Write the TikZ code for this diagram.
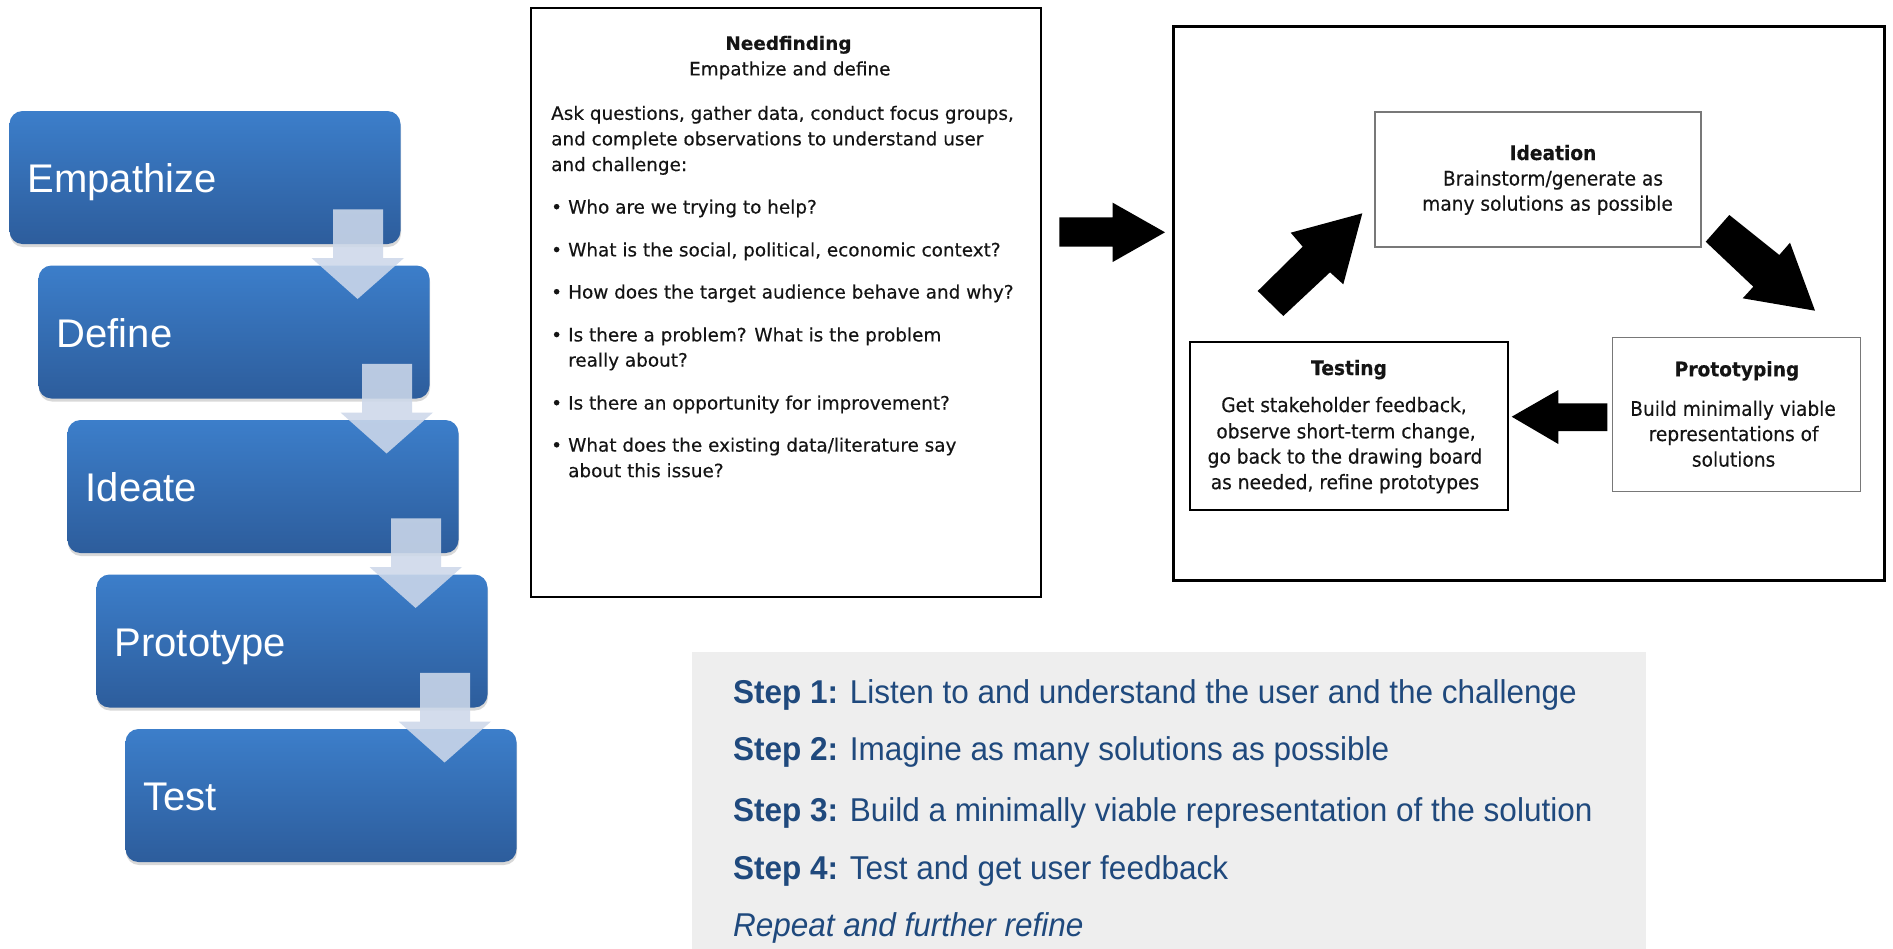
\documentclass[tikz,border=0pt]{standalone}
\usepackage{fontspec}
\setmainfont{Liberation Sans}
\newfontfamily\verd[FakeBold=0.35]{DejaVu Sans}
\newfontfamily\tah[FakeStretch=0.93,FakeBold=0.3]{DejaVu Sans}
\newfontfamily\stepf[FakeStretch=0.955]{Liberation Sans}
\usetikzlibrary{shadows}
\definecolor{boxtop}{RGB}{60,126,202}
\definecolor{boxbot}{RGB}{45,93,156}
\definecolor{chev}{RGB}{205,216,234}
\definecolor{steptxt}{RGB}{31,73,125}
\definecolor{panelgray}{RGB}{238,238,238}
\definecolor{thinline}{RGB}{120,120,120}
\begin{document}
\begin{tikzpicture}[x=1pt,y=-1pt,
  bluebox/.style={rounded corners=13pt, top color=boxtop, bottom color=boxbot, draw=none,
    minimum width=391pt, minimum height=133pt, anchor=north west, inner sep=0pt, outer sep=0pt,
    drop shadow={shadow xshift=0.5pt, shadow yshift=-3pt, opacity=0.3}},
  bluelabel/.style={anchor=base west, text=white, font=\fontsize{40}{48}\selectfont, inner sep=0pt},
  chevron/.style={fill=chev, fill opacity=0.88, draw=none},
  frame/.style={draw=black, anchor=north west, inner sep=0pt, outer sep=0pt},
  nftext/.style={anchor=base west, font=\verd\fontsize{18.4}{22}\selectfont, inner sep=0pt, text=black!92},
  nfhead/.style={anchor=base, font=\verd\fontsize{18.4}{22}\selectfont, inner sep=0pt, text=black!92},
  cyc/.style={anchor=base, font=\tah\fontsize{20}{24}\selectfont, inner sep=0pt, text=black!92},
  blockarrow/.style={fill=black, draw=none},
  steptext/.style={anchor=base west, font=\stepf\fontsize{33}{40}\selectfont, text=steptxt, inner sep=0pt}
]
\useasboundingbox (0,0) rectangle (1893,948);
\fill[white] (0,0) rectangle (1893,948);

% ---------- left staircase ----------
\node[bluebox] (b1) at (9.5,111) {};
\node[bluebox] (b2) at (38.5,265.5) {};
\node[bluebox] (b3) at (67.5,420) {};
\node[bluebox] (b4) at (96.5,574.5) {};
\node[bluebox] (b5) at (125.5,729) {};
\node[bluelabel] (l1) at (27.5,192.5) {Empathize};
\node[bluelabel] (l2) at (56.5,347) {Define};
\node[bluelabel] (l3) at (85.5,501.5) {Ideate};
\node[bluelabel] (l4) at (114.5,656) {Prototype};
\node[bluelabel] (l5) at (143.5,810.5) {Test};
\foreach \i in {1,2,3,4} {
  \fill[chevron] ([shift={(-67.5,98.4)}]b\i.north east) -- ++(50,0) -- ++(0,48.6) -- ++(21,0)
     -- ++(-46.4,41) -- ++(-46.1,-41) -- ++(21.5,0) -- cycle;
}

% ---------- needfinding box ----------
\node[frame, line width=2.5pt, minimum width=510pt, minimum height=589pt] (nfbox) at (531,8) {};
\node[nfhead] (nfh1) at (788.5,49.8) {\bfseries Needfinding};
\node[nfhead] (nfh2) at (789.8,75.4) {Empathize and define};
\node[nftext] (nf1) at (551,119.8) {Ask questions, gather data, conduct focus groups,};
\node[nftext] (nf2) at (551,145.4) {and complete observations to understand user};
\node[nftext] (nf3) at (551,171) {and challenge:};
\node[nftext] (bu1) at (551,213.5) {•};
\node[nftext] (q1) at (568,213.5) {Who are we trying to help?};
\node[nftext] (bu2) at (551,256.4) {•};
\node[nftext] (q2) at (568,256.4) {What is the social, political, economic context?};
\node[nftext] (bu3) at (551,298.5) {•};
\node[nftext] (q3) at (568,298.5) {How does the target audience behave and why?};
\node[nftext] (bu4) at (551,341.4) {•};
\node[nftext] (q4a) at (568,341.4) {Is there a problem? What is the problem};
\node[nftext] (q4b) at (568,366.6) {really about?};
\node[nftext] (bu5) at (551,409.5) {•};
\node[nftext] (q5) at (568,409.5) {Is there an opportunity for improvement?};
\node[nftext] (bu6) at (551,451.6) {•};
\node[nftext] (q6a) at (568,451.6) {What does the existing data/literature say};
\node[nftext] (q6b) at (568,477.2) {about this issue?};

% ---------- big arrow ----------
\fill[blockarrow] (1059.3,217.3) -- (1112.7,217.3) -- (1112.7,202.7) -- (1165,232.3)
   -- (1112.7,262) -- (1112.7,246.7) -- (1059.3,246.7) -- cycle;

% ---------- cycle box ----------
\node[frame, line width=3pt, minimum width=711pt, minimum height=554pt] (cycbox) at (1173,26) {};
\node[frame, draw=thinline, line width=1.2pt, minimum width=326pt, minimum height=135pt] (idea) at (1375,112) {};
\node[frame, line width=1.8pt, minimum width=318pt, minimum height=168pt] (test) at (1190,342) {};
\node[frame, draw=thinline, line width=1.2pt, minimum width=248pt, minimum height=154pt] (proto) at (1612.5,337.5) {};

\node[cyc] (id1) at (1553,160) {\bfseries Ideation};
\node[cyc] (id2) at (1553,185.5) {Brainstorm/generate as};
\node[cyc] (id3) at (1547.5,210.7) {many solutions as possible};

\node[cyc] (te1) at (1349,375) {\bfseries Testing};
\node[cyc] (te2) at (1344,412) {Get stakeholder feedback,};
\node[cyc] (te3) at (1346,438.4) {observe short-term change,};
\node[cyc] (te4) at (1345,463.6) {go back to the drawing board};
\node[cyc] (te5) at (1345,489.2) {as needed, refine prototypes};

\node[cyc] (pr1) at (1737,376.3) {\bfseries Prototyping};
\node[cyc] (pr2) at (1733,415.8) {Build minimally viable};
\node[cyc] (pr3) at (1733.6,441) {representations of};
\node[cyc] (pr4) at (1733.6,466.6) {solutions};

% cycle arrows
\fill[blockarrow] (1257.7,291) -- (1302.7,246.7) -- (1290.7,232.7) -- (1362.3,213.3)
   -- (1343.3,284.3) -- (1330,272.3) -- (1283.3,316) -- cycle;
\fill[blockarrow] (1705.7,241.7) -- (1729.3,215) -- (1779.3,255) -- (1790,242.7)
   -- (1815,310.7) -- (1742.7,298.3) -- (1753.3,286.7) -- cycle;
\fill[blockarrow] (1607.3,403.3) -- (1558.3,403.3) -- (1558.3,390) -- (1511.7,416.7)
   -- (1558.3,444) -- (1558.3,431) -- (1607.3,431) -- cycle;

% ---------- steps panel ----------
\node[fill=panelgray, anchor=north west, inner sep=0pt, outer sep=0pt,
      minimum width=954pt, minimum height=297pt] (panel) at (691.8,651.7) {};
\node[steptext] (s1) at (732.8,703.3) {\textbf{Step 1:} Listen to and understand the user and the challenge};
\node[steptext] (s2) at (732.8,760) {\textbf{Step 2:} Imagine as many solutions as possible};
\node[steptext] (s3) at (732.8,821.7) {\textbf{Step 3:} Build a minimally viable representation of the solution};
\node[steptext] (s4) at (732.8,879.3) {\textbf{Step 4:} Test and get user feedback};
\node[steptext] (s5) at (732.8,936) {\textit{Repeat and further refine}};
\end{tikzpicture}
\end{document}
